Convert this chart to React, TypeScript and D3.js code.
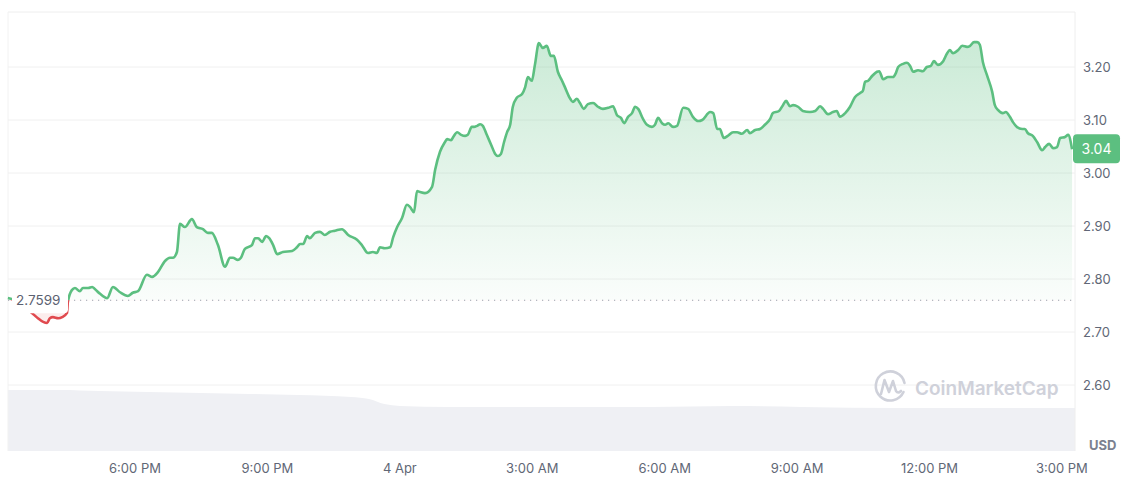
import React from "react";
import * as d3 from "d3";

// ---- data ----
// hours since 3 Apr 00:00
const hours = [
  15.12, 15.26, 15.39, 15.55, 15.69, 15.8, 15.92, 16.01, 16.07, 16.14, 16.26, 16.35, 16.46, 16.48, 16.57, 16.64, 16.75, 16.82, 16.94, 17.03,
  17.09, 17.21, 17.37, 17.5, 17.66, 17.84, 17.95, 18.07, 18.27, 18.39, 18.52, 18.68, 18.79, 18.86, 18.95, 19.02, 19.13, 19.29, 19.4, 19.54,
  19.65, 19.74, 19.88, 20.04, 20.15, 20.22, 20.33, 20.4, 20.49, 20.65, 20.72, 20.79, 20.88, 20.97, 21.04, 21.13, 21.22, 21.35, 21.56, 21.67,
  21.74, 21.81, 21.9, 21.96, 22.08, 22.19, 22.3, 22.42, 22.53, 22.69, 22.83, 23.03, 23.14, 23.28, 23.39, 23.48, 23.55, 23.66, 23.78, 23.85,
  23.94, 24.05, 24.16, 24.23, 24.32, 24.39, 24.46, 24.57, 24.73, 24.8, 24.91, 25.02, 25.07, 25.16, 25.21, 25.3, 25.39, 25.48, 25.54, 25.63,
  25.68, 25.75, 25.82, 25.88, 25.97, 26.07, 26.16, 26.22, 26.29, 26.36, 26.43, 26.5, 26.56, 26.65, 26.77, 26.84, 26.9, 26.99, 27.06, 27.15,
  27.24, 27.33, 27.42, 27.49, 27.58, 27.67, 27.74, 27.86, 27.92, 28.01, 28.08, 28.17, 28.26, 28.38, 28.49, 28.6, 28.72, 28.83, 28.92, 29.01,
  29.08, 29.17, 29.26, 29.33, 29.4, 29.51, 29.6, 29.71, 29.78, 29.85, 29.94, 30.01, 30.08, 30.19, 30.28, 30.42, 30.53, 30.64, 30.76, 30.85,
  31.03, 31.1, 31.19, 31.25, 31.34, 31.43, 31.55, 31.64, 31.75, 31.87, 31.93, 32.05, 32.16, 32.27, 32.39, 32.45, 32.59, 32.68, 32.75, 32.84,
  32.91, 33.02, 33.13, 33.29, 33.41, 33.52, 33.59, 33.7, 33.81, 33.9, 33.97, 34.09, 34.2, 34.31, 34.43, 34.49, 34.54, 34.61, 34.7, 34.81,
  34.86, 34.95, 35.06, 35.17, 35.24, 35.29, 35.4, 35.49, 35.56, 35.63, 35.74, 35.85, 35.94, 36.03, 36.1, 36.19, 36.31, 36.4, 36.46, 36.53,
  36.65, 36.74, 36.85, 36.92, 37.01, 37.08, 37.14, 37.21, 37.3, 37.42, 37.48, 37.55, 37.66, 37.73, 37.82, 37.89, 37.98, 38.1, 38.16, 38.23,
  38.34, 38.44, 38.55, 38.62, 38.71, 38.8, 38.89, 38.96, 39.07, 39.14, 39.23,
];
const prices = [
  2.764, 2.76, 2.751, 2.742, 2.734, 2.726, 2.719, 2.717, 2.726, 2.728, 2.726, 2.728, 2.736, 2.757, 2.779, 2.783, 2.777, 2.783, 2.783, 2.785,
  2.781, 2.772, 2.764, 2.785, 2.775, 2.768, 2.774, 2.777, 2.808, 2.804, 2.813, 2.834, 2.84, 2.84, 2.851, 2.904, 2.898, 2.913, 2.898, 2.894,
  2.887, 2.887, 2.864, 2.823, 2.84, 2.84, 2.836, 2.84, 2.857, 2.864, 2.877, 2.877, 2.87, 2.881, 2.877, 2.864, 2.847, 2.851, 2.853, 2.86,
  2.866, 2.866, 2.881, 2.877, 2.887, 2.889, 2.883, 2.889, 2.891, 2.894, 2.883, 2.874, 2.864, 2.849, 2.851, 2.849, 2.86, 2.858, 2.86, 2.879,
  2.898, 2.915, 2.94, 2.936, 2.926, 2.966, 2.964, 2.962, 2.974, 3.006, 3.04, 3.058, 3.064, 3.062, 3.068, 3.077, 3.072, 3.07, 3.072, 3.087,
  3.087, 3.089, 3.092, 3.089, 3.072, 3.053, 3.036, 3.032, 3.036, 3.058, 3.077, 3.091, 3.125, 3.142, 3.149, 3.162, 3.181, 3.174, 3.204, 3.245,
  3.236, 3.24, 3.221, 3.221, 3.191, 3.175, 3.162, 3.14, 3.134, 3.14, 3.132, 3.121, 3.13, 3.132, 3.125, 3.121, 3.123, 3.126, 3.109, 3.104,
  3.094, 3.106, 3.113, 3.125, 3.121, 3.102, 3.091, 3.087, 3.091, 3.104, 3.094, 3.091, 3.094, 3.087, 3.089, 3.123, 3.121, 3.106, 3.098, 3.1,
  3.115, 3.113, 3.083, 3.083, 3.066, 3.07, 3.077, 3.077, 3.074, 3.081, 3.075, 3.081, 3.083, 3.091, 3.102, 3.113, 3.117, 3.128, 3.136, 3.126,
  3.128, 3.125, 3.117, 3.115, 3.117, 3.126, 3.121, 3.111, 3.115, 3.117, 3.106, 3.113, 3.125, 3.143, 3.151, 3.155, 3.172, 3.174, 3.183, 3.191,
  3.192, 3.177, 3.181, 3.181, 3.189, 3.2, 3.206, 3.208, 3.202, 3.191, 3.194, 3.192, 3.2, 3.202, 3.211, 3.204, 3.211, 3.226, 3.232, 3.226,
  3.232, 3.24, 3.238, 3.24, 3.247, 3.247, 3.242, 3.209, 3.185, 3.153, 3.128, 3.119, 3.113, 3.115, 3.106, 3.096, 3.087, 3.083, 3.083, 3.075,
  3.07, 3.058, 3.043, 3.049, 3.055, 3.047, 3.049, 3.066, 3.068, 3.072, 3.045,
];
const baselinePrice = 2.7599;
const currentLabel = "3.04";

// relative 24h volume profile
const volumeHours = [15.12, 16.3, 17.2, 18.3, 19.5, 20.6, 21.7, 22.9, 23.3, 23.65, 24.0, 25.1, 27.4, 29.7, 31.5, 33.1, 35.3, 37.6, 39.3];
const volumeValues = [92.4, 92.4, 90.9, 89.4, 87.9, 86.4, 84.8, 81.8, 78.8, 71.2, 68.2, 66.7, 66.7, 66.7, 68.2, 66.7, 65.2, 65.2, 65.2];

const yTicks = [2.6, 2.7, 2.8, 2.9, 3.0, 3.1, 3.2];
const xTickHours = [18, 21, 24, 27, 30, 33, 36, 39];
const xTickLabels = ["6:00 PM", "9:00 PM", "4 Apr", "3:00 AM", "6:00 AM", "9:00 AM", "12:00 PM", "3:00 PM"];

const BASE = new Date(2024, 3, 3, 0, 0, 0).getTime();
const toDate = (h: number) => new Date(BASE + h * 3600 * 1000);

export default function App() {
  const W = 1140;
  const H = 481;
  const left = 8;
  const right = 1075;
  const top = 12;
  const bottom = 451;

  const x = d3.scaleTime().domain([toDate(15.123), toDate(39.228)]).range([8, 1072]);
  const y = d3.scaleLinear().domain([2.6, 3.2]).range([385, 67]);
  const yVol = d3.scaleLinear().domain([0, 100]).range([bottom, 385]);

  const pts = hours.map((h, i) => ({ t: toDate(h), v: prices[i] }));
  const yBase = y(baselinePrice);

  const line = d3
    .line<{ t: Date; v: number }>()
    .x((d) => x(d.t))
    .y((d) => y(d.v))
    .curve(d3.curveMonotoneX);
  const area = d3
    .area<{ t: Date; v: number }>()
    .x((d) => x(d.t))
    .y0(yBase)
    .y1((d) => y(d.v))
    .curve(d3.curveMonotoneX);

  const volPts = volumeHours.map((h, i) => ({ t: toDate(h), v: volumeValues[i] }));
  const volArea = d3
    .area<{ t: Date; v: number }>()
    .x((d) => Math.min(right, x(d.t)))
    .y0(bottom)
    .y1((d) => yVol(d.v))
    .curve(d3.curveMonotoneX);

  const minY = y(d3.max(prices) as number);
  const green = "#5cbf80";
  const red = "#e04a4f";
  const textGray = "#616776";
  const font = "Inter, 'Noto Sans', sans-serif";
  const last = pts[pts.length - 1];

  return (
    <div style={{ position: "fixed", left: 0, top: 0, width: W, height: H, background: "#fff" }}>
      <svg width={W} height={H} style={{ display: "block" }} fontFamily={font}>
        <defs>
          <clipPath id="above">
            <rect x={0} y={0} width={W} height={yBase} />
          </clipPath>
          <clipPath id="below">
            <rect x={0} y={yBase} width={W} height={H - yBase} />
          </clipPath>
          <linearGradient id="gfill" gradientUnits="userSpaceOnUse" x1={0} y1={minY} x2={0} y2={yBase}>
            <stop offset="0%" stopColor={green} stopOpacity={0.32} />
            <stop offset="100%" stopColor={green} stopOpacity={0.03} />
          </linearGradient>
        </defs>

        {/* volume */}
        <path d={volArea(volPts) || ""} fill="#eff0f4" />

        {/* frame & grid */}
        <line x1={left} x2={right} y1={top} y2={top} stroke="#eeeeee" />
        <line x1={left} x2={left} y1={top} y2={bottom} stroke="#f2f2f2" />
        <line x1={right} x2={right} y1={top} y2={bottom} stroke="#eeeeee" />
        {yTicks.map((t) => (
          <line key={t} x1={left} x2={right} y1={y(t)} y2={y(t)} stroke="#f0f0f0" />
        ))}

        {/* watermark */}
        <g stroke="#cfd1da" fill="none" strokeWidth={2.6} strokeLinecap="round" strokeLinejoin="round">
          <path d="M 903.5 392 A 14.5 14.5 0 1 1 904.5 383" />
          <path d="M 881 394 L 884.5 380 L 889 392 L 893 381 L 896 391 Q 898 394 901 391" />
        </g>
        <text x={915} y={395} fontSize={19} fontWeight={600} fill="#cfd1da">
          CoinMarketCap
        </text>

        {/* areas */}
        <path d={area(pts) || ""} fill="url(#gfill)" clipPath="url(#above)" />
        <path d={area(pts) || ""} fill={red} fillOpacity={0.1} clipPath="url(#below)" />

        {/* baseline */}
        <line x1={left} x2={right} y1={yBase} y2={yBase} stroke="#9aa0aa" strokeWidth={1.2} strokeDasharray="1.2 4.8" />

        {/* price line */}
        <path d={line(pts) || ""} fill="none" stroke={green} strokeWidth={2.6} strokeLinejoin="round" clipPath="url(#above)" />
        <path d={line(pts) || ""} fill="none" stroke={red} strokeWidth={2.6} strokeLinejoin="round" clipPath="url(#below)" />

        {/* baseline label */}
        <rect x={12} y={yBase - 12} width={56} height={25} rx={4} fill="#ffffff" />
        <text x={16} y={yBase} dy="0.35em" fontSize={13.5} fill="#5b6171">
          {baselinePrice.toFixed(4)}
        </text>

        {/* y axis */}
        {yTicks.map((t) => (
          <text key={t} x={1083} y={y(t)} dy="0.35em" fontSize={13} fill={textGray}>
            {t.toFixed(2)}
          </text>
        ))}
        <text x={1089} y={450} fontSize={13} fontWeight={700} fill="#7b8190">
          USD
        </text>

        {/* current price label */}
        <rect x={1073} y={y(last.v) - 15} width={47} height={29} rx={4} fill={green} />
        <text x={1096.5} y={y(last.v)} dy="0.35em" textAnchor="middle" fontSize={14} fill="#ffffff">
          {currentLabel}
        </text>

        {/* x axis */}
        {xTickHours.map((h, i) => (
          <text key={h} x={x(toDate(h))} y={473} textAnchor="middle" fontSize={13} fill={textGray}>
            {xTickLabels[i]}
          </text>
        ))}
      </svg>
    </div>
  );
}
